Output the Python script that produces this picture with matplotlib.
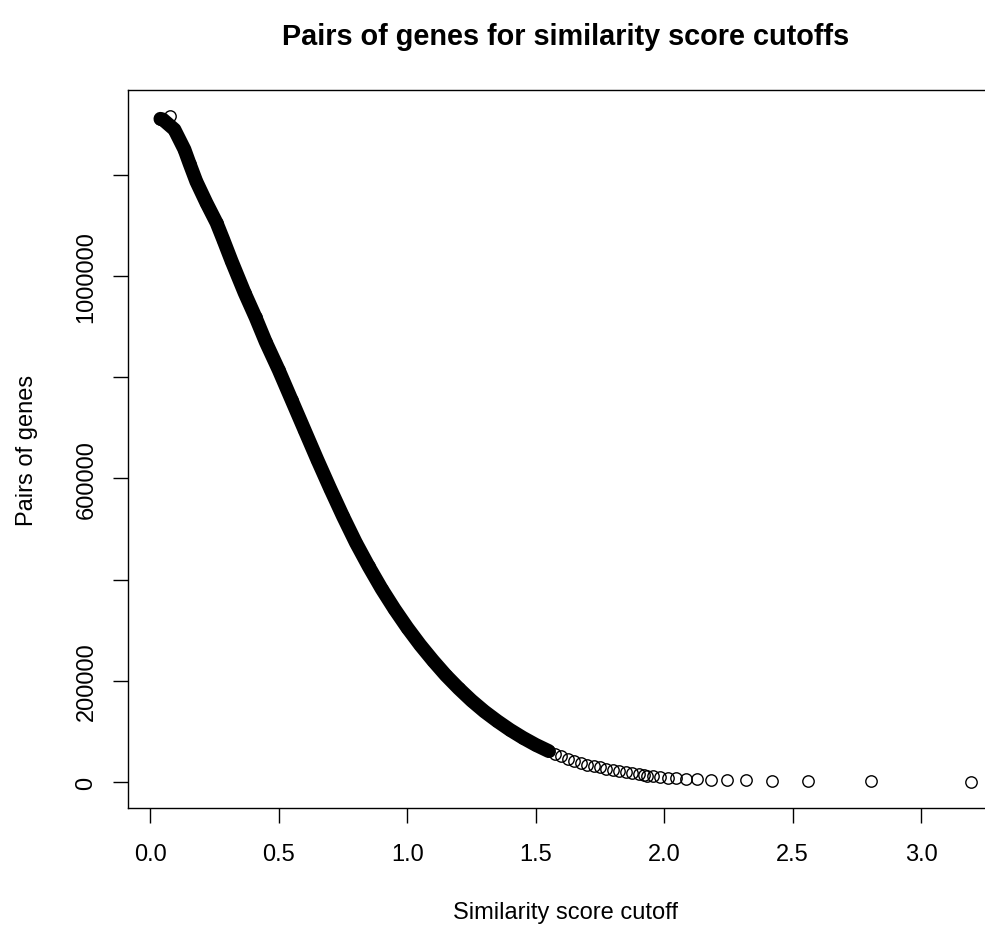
import matplotlib
matplotlib.use("Agg")
import matplotlib.pyplot as plt

# ---- data ----
# dense part of the curve (overlapping circles forming a solid band)
band_cutoff = [0.0395, 0.049, 0.094, 0.133, 0.153, 0.179, 0.218, 0.258, 0.284,
               0.316, 0.367, 0.410, 0.449, 0.50, 0.55, 0.60, 0.65, 0.70, 0.75,
               0.80, 0.85, 0.90, 0.95, 1.00, 1.05, 1.10, 1.15, 1.20, 1.25,
               1.30, 1.35, 1.40, 1.45, 1.50, 1.55]
band_pairs = [1310700, 1309300, 1289500, 1250000, 1222000, 1187000, 1145000,
              1105100, 1072000, 1030000, 966800, 918000, 870000, 814000,
              755000, 696000, 637000, 580000, 525000, 473000, 426000, 382000,
              342000, 305000, 271000, 240000, 211000, 185000, 161000, 139500,
              120500, 103000, 87400, 73400, 61200]
# isolated circle near the top
top_cutoff = [0.0787]
top_pairs = [1315800]
# tail of the curve where single circles become visible
tail_cutoff = [1.575, 1.600, 1.625, 1.650, 1.675, 1.700, 1.725, 1.750, 1.775,
               1.800, 1.825, 1.850, 1.875, 1.900, 1.920, 1.933, 1.957, 1.984,
               2.013, 2.045, 2.085, 2.127, 2.182, 2.246, 2.320, 2.418, 2.561,
               2.805, 3.194]
tail_pairs = [55500, 50500, 45500, 41000, 37500, 34500, 31500, 29000, 26500,
              24000, 21800, 19800, 17800, 15800, 14000, 12800, 11000, 9800,
              8600, 7600, 6600, 5700, 4900, 4100, 3400, 2700, 2000, 1300, 600]

x_ticks = [0.0, 0.5, 1.0, 1.5, 2.0, 2.5, 3.0]
x_tick_labels = ["0.0", "0.5", "1.0", "1.5", "2.0", "2.5", "3.0"]
y_ticks = [0, 200000, 400000, 600000, 800000, 1000000, 1200000]
y_tick_labels = ["0", "200000", "", "600000", "", "1000000", ""]

title = "Pairs of genes for similarity score cutoffs"
x_label = "Similarity score cutoff"
y_label = "Pairs of genes"

plt.rcParams["font.family"] = ["Liberation Sans", "DejaVu Sans"]

W, H = 985, 929
fig = plt.figure(figsize=(W / 100, H / 100), dpi=100)
ax = fig.add_axes([128 / W, 1 - 809.3 / H, 875.5 / W, 718.7 / H])

# solid band of overlapping circles
ax.plot(band_cutoff, band_pairs, color="black", lw=10, solid_capstyle="round",
        solid_joinstyle="round", zorder=2)
mk = dict(linestyle="none", marker="o", markersize=8.2, markerfacecolor="none",
          markeredgecolor="black", markeredgewidth=1.0, zorder=3)
ax.plot(band_cutoff, band_pairs, **mk)
ax.plot(top_cutoff, top_pairs, **mk)
ax.plot(tail_cutoff, tail_pairs, **mk)

# R-style 4% axis extension computed from the data
all_x = band_cutoff + top_cutoff + tail_cutoff
all_y = band_pairs + top_pairs + tail_pairs
dx = (max(all_x) - min(all_x)) * 0.04
dy = (max(all_y) - min(all_y)) * 0.04
ax.set_xlim(min(all_x) - dx, max(all_x) + dx)
ax.set_ylim(min(all_y) - dy, max(all_y) + dy)

ax.set_xticks(x_ticks)
ax.set_xticklabels(x_tick_labels)
ax.set_yticks(y_ticks)
ax.set_yticklabels(y_tick_labels, rotation=90, va="center")

ax.tick_params(axis="both", direction="out", length=11, width=1.0,
               labelsize=17, colors="black")
ax.tick_params(axis="x", pad=14)
ax.tick_params(axis="y", pad=11)
for s in ax.spines.values():
    s.set_linewidth(1.0)
    s.set_color("black")

ax.set_title(title, fontsize=20.8, fontweight="bold", pad=33)
ax.set_xlabel(x_label, fontsize=17, labelpad=26)
ax.set_ylabel(y_label, fontsize=17, labelpad=27)

fig.savefig("out.png", dpi=100, facecolor="white")
